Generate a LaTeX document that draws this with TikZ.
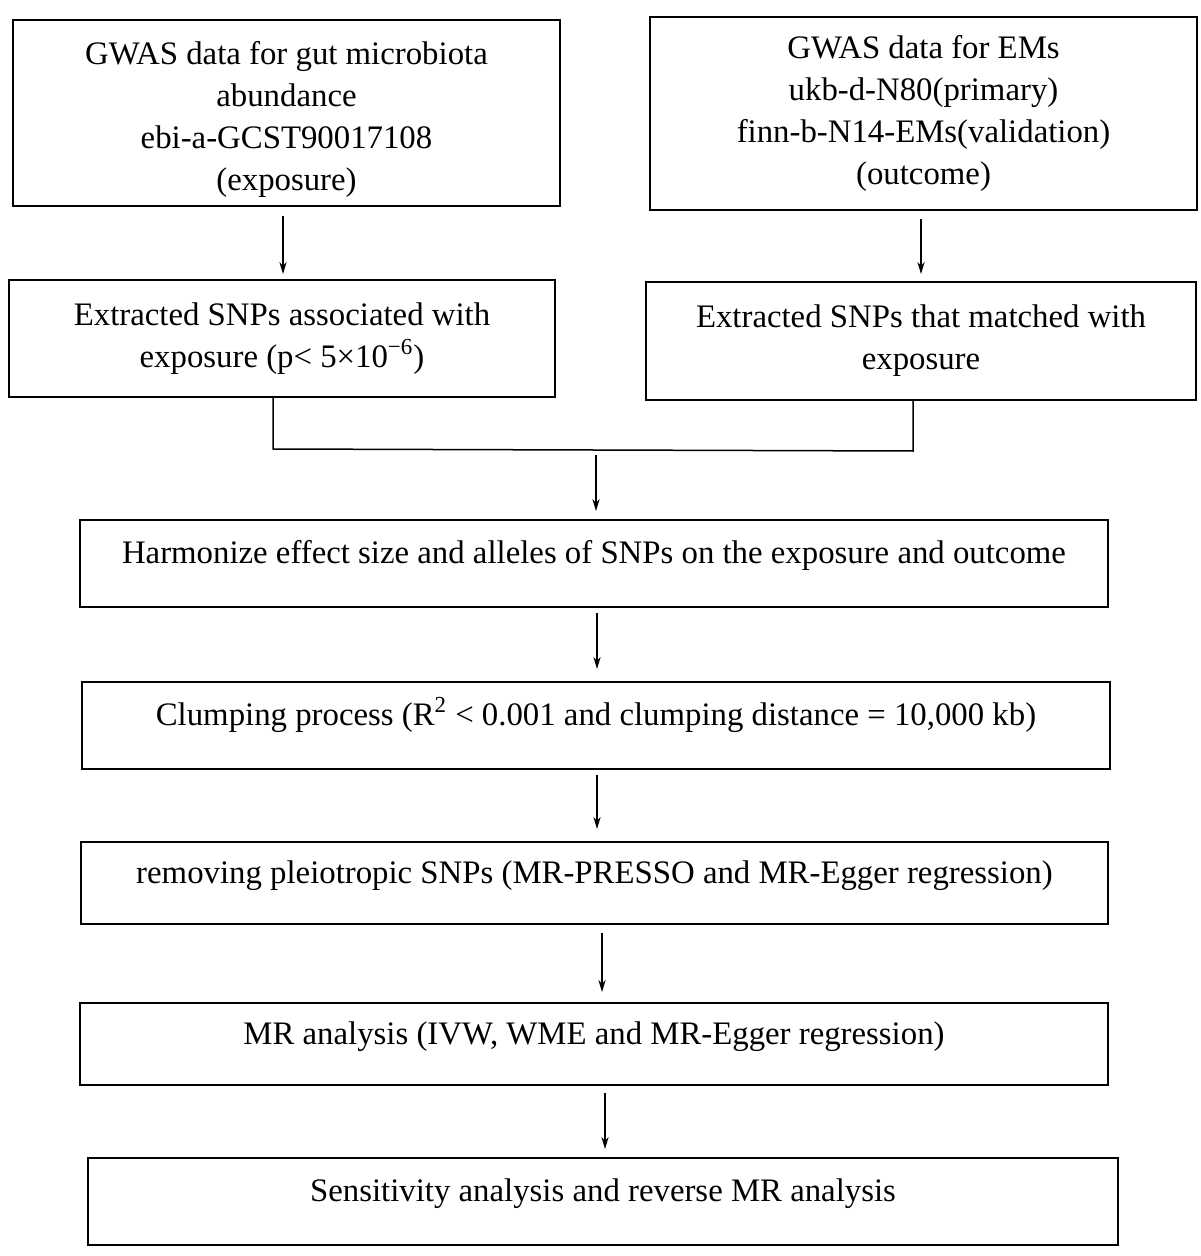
\documentclass[tikz,border=0pt]{standalone}
\usepackage{fontspec}
\setmainfont{Liberation Serif}
\usetikzlibrary{arrows.meta, calc}

\tikzset{
    stepbox/.style={draw, line width=1pt, inner sep=0pt, align=center, font=\fontsize{16.4}{21}\selectfont},
    flowbox/.style={stepbox, text height=10pt, text depth=10pt}
}

\begin{document}
\begin{tikzpicture}[x=0.5pt, y=-0.5pt, >={Stealth[length=6pt, width=3.6pt]}, every path/.style={line width=0.75pt}]
    \useasboundingbox (0,0) rectangle (1200,1256);
    % the two data sources
    \node[stepbox, minimum width=273.5pt, minimum height=93pt] (gut) at (286.5,113)
        {\rule{0pt}{18pt}GWAS data for gut microbiota\\abundance\\ebi-a-GCST90017108\\(exposure)};
    \node[stepbox, minimum width=273.5pt, minimum height=96.5pt] (ems) at (923.5,113.5)
        {GWAS data for EMs\\ukb-d-N80(primary)\\finn-b-N14-EMs(validation)\\(outcome)};
    \node[stepbox, minimum width=273pt, minimum height=58.5pt] (snpexp) at (282,338.5)
        {Extracted SNPs associated with\\exposure (p< 5×10\textsuperscript{−6})};
    \node[stepbox, minimum width=275pt, minimum height=59pt] (snpout) at (921,341)
        {Extracted SNPs that matched with\\exposure};
    % main chain
    \node[flowbox, minimum width=514pt, minimum height=43.5pt] (harm) at (594,563.5)
        {Harmonize effect size and alleles of SNPs on the exposure and outcome};
    \node[flowbox, minimum width=514pt, minimum height=43.5pt] (clump) at (596,725.5)
        {Clumping process (R\textsuperscript{2} < 0.001 and clumping distance = 10,000 kb)};
    \node[flowbox, minimum width=513.5pt, minimum height=41pt] (pleio) at (594.5,883)
        {removing pleiotropic SNPs (MR-PRESSO and MR-Egger regression)};
    \node[flowbox, minimum width=514pt, minimum height=41pt] (mr) at (594,1044)
        {MR analysis (IVW, WME and MR-Egger regression)};
    \node[flowbox, minimum width=515pt, minimum height=43.5pt] (sens) at (603,1201.5)
        {Sensitivity analysis and reverse MR analysis};

    \coordinate (joinL) at (273,449);
    \coordinate (joinR) at (913,451);
    \coordinate (joinM) at (596,450);

    \draw[->, shorten <=4.5pt, shorten >=2.5pt] (gut.south -| 283,0) -- (snpexp.north -| 283,0);
    \draw[->, shorten <=4pt, shorten >=3.5pt] (ems.south -| 921,0) -- (snpout.north -| 921,0);
    \draw (snpexp.south -| joinL) -- (joinL) -- (joinR) -- (snpout.south -| joinR);
    \draw[->, shorten <=2.5pt, shorten >=4pt] (joinM) -- (harm.north -| joinM);
    \draw[->, shorten <=2.5pt, shorten >=6pt] (harm.south -| 597,0) -- (clump.north -| 597,0);
    \draw[->, shorten <=2.5pt, shorten >=6pt] (clump.south -| 597,0) -- (pleio.north -| 597,0);
    \draw[->, shorten <=4pt, shorten >=5pt] (pleio.south -| 602,0) -- (mr.north -| 602,0);
    \draw[->, shorten <=3.5pt, shorten >=4pt] (mr.south -| 605,0) -- (sens.north -| 605,0);
\end{tikzpicture}
\end{document}
